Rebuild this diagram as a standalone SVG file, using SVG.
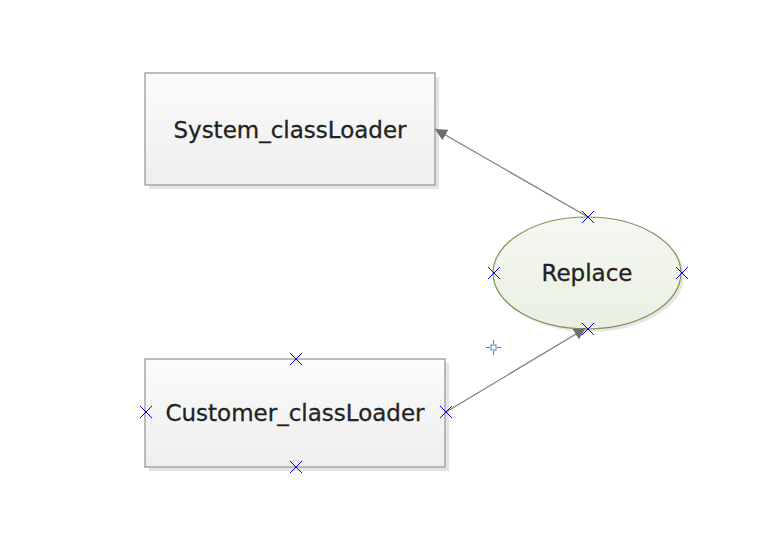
<svg xmlns="http://www.w3.org/2000/svg" width="782" height="558" viewBox="0 0 782 558">
<defs>
<linearGradient id="gBox" x1="0" y1="0" x2="0" y2="1"><stop offset="0" stop-color="#fbfbfb"/><stop offset="1" stop-color="#eeeeee"/></linearGradient>
<linearGradient id="gEll" x1="0" y1="0" x2="0" y2="1"><stop offset="0" stop-color="#f6f8f2"/><stop offset="1" stop-color="#e9efe1"/></linearGradient>
<marker id="arr" viewBox="0 0 10 10" refX="10" refY="5" markerWidth="12" markerHeight="12" markerUnits="userSpaceOnUse" orient="auto"><path d="M0,0 L10,5 L0,10 z" fill="#6e6e6e"/></marker>
<g id="x"><path d="M-6,-6 L6,6 M-6,6 L6,-6" stroke="#0000ee" stroke-width="1"/></g>
</defs>
<style>
.box{fill:url(#gBox);stroke:#a6a6a6;stroke-width:1.5}
.sh{fill:#e4e4e4}
.ell{fill:url(#gEll);stroke:#7f9255;stroke-width:1.2}
.lbl{font-family:"DejaVu Sans","Open Sans",sans-serif;font-size:23px;fill:#222222;stroke:#222222;stroke-width:0.3;text-anchor:middle}
.con{stroke:#7a7a7a;stroke-width:1.2;fill:none}
</style>
<rect width="782" height="558" fill="#ffffff"/>
<g id="system">
<rect class="sh" x="149" y="77" width="290" height="112"/>
<rect class="box" x="145" y="73" width="290" height="112"/>
<text class="lbl" x="290" y="138">System_classLoader</text>
</g>
<g id="customer">
<rect class="sh" x="149" y="363" width="300" height="108"/>
<rect class="box" x="145" y="359" width="300" height="108"/>
<text class="lbl" x="295" y="421">Customer_classLoader</text>
</g>
<g id="replace">
<ellipse cx="590" cy="276" rx="94" ry="56" fill="#e6e6e6"/>
<ellipse class="ell" cx="587" cy="273" rx="94" ry="56"/>
<text class="lbl" x="587" y="281">Replace</text>
</g>
<g id="connectors">
<line class="con" x1="588" y1="217" x2="435" y2="129" marker-end="url(#arr)"/>
<line class="con" x1="446" y1="412" x2="586" y2="328" marker-end="url(#arr)"/>
</g>
<g id="handles">
<use href="#x" x="588" y="217"/>
<use href="#x" x="494" y="273"/>
<use href="#x" x="682" y="273"/>
<use href="#x" x="588" y="329"/>
<use href="#x" x="296" y="359"/>
<use href="#x" x="146" y="412"/>
<use href="#x" x="446" y="412"/>
<use href="#x" x="296" y="467"/>
<g stroke="#4a7fc8" stroke-width="1" fill="none"><path d="M486,347.5 H490 M497,347.5 H501 M493.5,340 V344 M493.5,351 V355"/><rect x="491" y="345" width="5" height="5" fill="#fff"/></g>
</g>
</svg>
